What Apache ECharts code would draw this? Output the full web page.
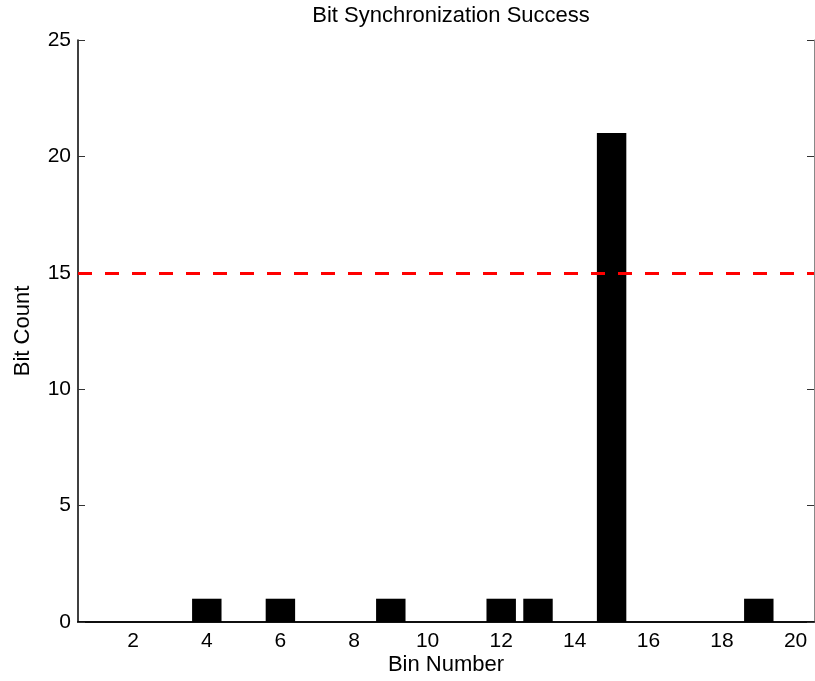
<!DOCTYPE html>
<html>
<head>
<meta charset="utf-8">
<script src="https://cdn.jsdelivr.net/npm/echarts@6/dist/echarts.min.js"></script>
<style>
  html, body { margin: 0; padding: 0; background: #fff; }
  #main { width: 815px; height: 681px; }
</style>
</head>
<body>
<div id="main"></div>
<script>
// bins 1..20 and the bit count per bin
var binNumbers = [1, 2, 3, 4, 5, 6, 7, 8, 9, 10, 11, 12, 13, 14, 15, 16, 17, 18, 19, 20];
var bitCounts = [0, 0, 0, 1, 0, 1, 0, 0, 1, 0, 0, 1, 1, 0, 21, 0, 0, 0, 1, 0];
var threshold = 15;

var chartDom = document.getElementById('main');
var myChart = echarts.init(chartDom);
var option;

// only even bins get a tick + label
var evenOnly = function (idx) { return (idx + 1) % 2 === 0; };
var font = 'Liberation Sans, Arial, sans-serif';

option = {
  animation: false,
  title: {
    text: 'Bit Synchronization Success',
    left: 446,
    textAlign: 'center',
    top: 0,
    textStyle: { fontFamily: font, fontSize: 22, fontWeight: 'normal', color: '#000' }
  },
  grid: { left: 78, top: 40, right: 1, bottom: 59, containLabel: false, outerBoundsMode: 'none' },
  xAxis: [
    {
      type: 'category',
      data: binNumbers,
      position: 'bottom',
      name: 'Bin Number',
      nameLocation: 'middle',
      nameGap: 32,
      nameMoveOverlap: false,
      nameTextStyle: { fontFamily: font, fontSize: 22, color: '#000' },
      axisLine: { lineStyle: { color: '#000', width: 1.5 } },
      axisTick: { inside: true, length: 7, alignWithLabel: true, interval: evenOnly, lineStyle: { color: '#333' } },
      axisLabel: { interval: evenOnly, margin: 9, fontFamily: font, fontSize: 21, color: '#000' },
      splitLine: { show: false }
    },
    {
      type: 'category',
      data: binNumbers,
      position: 'top',
      axisLine: { lineStyle: { color: '#000', width: 1.5 } },
      axisTick: { inside: true, length: 7, alignWithLabel: true, interval: evenOnly, lineStyle: { color: '#333' } },
      axisLabel: { show: false }
    }
  ],
  yAxis: [
    {
      type: 'value',
      min: 0,
      max: 25,
      interval: 5,
      name: 'Bit Count',
      nameLocation: 'middle',
      nameGap: 44,
      nameTextStyle: { fontFamily: font, fontSize: 22, color: '#000' },
      axisLine: { show: true, lineStyle: { color: '#000', width: 1.5 } },
      axisTick: { show: true, inside: true, length: 7, lineStyle: { color: '#333' } },
      axisLabel: { margin: 7, fontFamily: font, fontSize: 21, color: '#000' },
      splitLine: { show: false }
    },
    {
      type: 'value',
      min: 0,
      max: 25,
      interval: 5,
      position: 'right',
      axisLine: { show: true, lineStyle: { color: '#888', width: 1 } },
      axisTick: { show: true, inside: true, length: 7, lineStyle: { color: '#333' } },
      axisLabel: { show: false },
      splitLine: { show: false }
    }
  ],
  series: [
    {
      type: 'bar',
      data: bitCounts,
      barWidth: '80%',
      itemStyle: { color: '#000' },
      markLine: {
        symbol: 'none',
        silent: true,
        label: { show: false },
        lineStyle: { color: '#ff0000', width: 3, type: [14, 13] },
        data: [{ yAxis: threshold }]
      }
    }
  ]
};

option && myChart.setOption(option);
</script>
</body>
</html>
